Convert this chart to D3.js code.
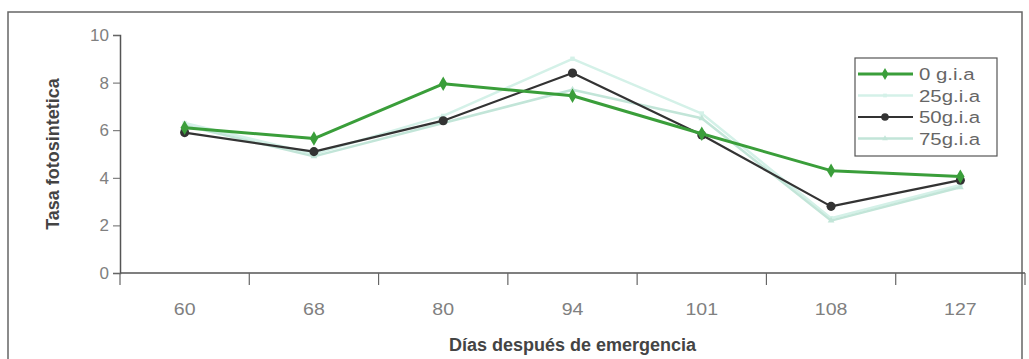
<!DOCTYPE html>
<html>
<head>
<meta charset="utf-8">
<script src="https://cdn.jsdelivr.net/npm/d3@7/dist/d3.min.js"></script>
<style>
    body { margin: 0; background: #fff; }
    svg { display: block; font-family: "Liberation Sans", Arial, sans-serif; }
</style>
</head>
<body>
<div id="chart"></div>
<script>
// Datos
const dias = ['60', '68', '80', '94', '101', '108', '127'];
const dosis0 = [6.1, 5.65, 7.95, 7.45, 5.85, 4.3, 4.05];
const dosis25 = [6.3, 5.0, 6.6, 9.0, 6.7, 2.3, 3.7];
const dosis50 = [5.9, 5.1, 6.4, 8.4, 5.8, 2.8, 3.9];
const dosis75 = [6.2, 4.9, 6.3, 7.7, 6.5, 2.2, 3.6];
const yTicks = [0, 2, 4, 6, 8, 10];

const series = [
    { name: '0 g.i.a', values: dosis0, color: '#3a9e3a', width: 3, marker: d3.symbolDiamond, size: 60 },
    { name: '25g.i.a', values: dosis25, color: '#d4f1e8', width: 2.5, marker: d3.symbolSquare, size: 20 },
    { name: '50g.i.a', values: dosis50, color: '#333333', width: 2.2, marker: d3.symbolCircle, size: 65 },
    { name: '75g.i.a', values: dosis75, color: '#c2e5d8', width: 2.5, marker: d3.symbolTriangle, size: 20 }
];
// orden de dibujo: claras primero, luego negra y verde encima
const drawOrder = [1, 3, 2, 0];

function drawChart() {
    const W = 1029, H = 359;
    const svg = d3.select('#chart').append('svg')
        .attr('width', W).attr('height', H);

    // Marco exterior (escaneado)
    svg.append('path')
        .attr('d', `M8,${H} L8,12 L1022,12 L1022,${H}`)
        .attr('fill', 'none').attr('stroke', '#666').attr('stroke-width', 1.5);

    const x = d3.scaleBand().domain(dias).range([120, 1025]);
    const y = d3.scaleLinear().domain([0, 10]).range([273, 35]);

    // Eje Y
    const yAxis = svg.append('g')
        .attr('transform', 'translate(120,0)')
        .call(d3.axisLeft(y).tickValues(yTicks).tickSize(7).tickPadding(4));
    yAxis.select('.domain').attr('stroke', '#555').attr('stroke-width', 1.5);
    yAxis.selectAll('.tick line').attr('stroke', '#666');
    yAxis.selectAll('.tick text')
        .attr('font-size', '17px').attr('fill', '#808080')
        .attr('font-family', '"Liberation Sans", Arial, sans-serif');

    // Eje X: línea, marcas entre categorías y etiquetas
    const xAxis = svg.append('g').attr('transform', `translate(0,${y(0)})`);
    xAxis.append('line')
        .attr('x1', x.range()[0]).attr('x2', x.range()[1])
        .attr('stroke', '#555').attr('stroke-width', 1.5);
    const bounds = dias.map(d => x(d)).concat([x.range()[1]]);
    xAxis.selectAll('.xtick').data(bounds).join('line')
        .attr('x1', d => d).attr('x2', d => d)
        .attr('y1', 0).attr('y2', 12)
        .attr('stroke', '#666').attr('stroke-width', 1.2);
    xAxis.selectAll('.xlab').data(dias).join('text')
        .attr('transform', d => `translate(${x(d) + x.bandwidth() / 2},42) scale(1.15,1)`)
        .attr('text-anchor', 'middle')
        .attr('font-size', '17px').attr('fill', '#808080')
        .text(d => d);

    // Títulos de ejes
    svg.append('text')
        .attr('transform', `translate(${(x.range()[0] + x.range()[1]) / 2},351)`)
        .attr('text-anchor', 'middle')
        .attr('font-size', '18px').attr('font-weight', 'bold').attr('fill', '#444')
        .text('Días después de emergencia');
    svg.append('text')
        .attr('transform', `translate(59,${(y(0) + y(10)) / 2}) rotate(-90)`)
        .attr('text-anchor', 'middle')
        .attr('font-size', '18px').attr('font-weight', 'bold').attr('fill', '#444')
        .text('Tasa fotosintetica');

    // Líneas
    const line = d3.line()
        .x((d, i) => x(dias[i]) + x.bandwidth() / 2)
        .y(d => y(d));

    drawOrder.forEach(k => {
        const s = series[k];
        svg.append('path')
            .datum(s.values)
            .attr('fill', 'none')
            .attr('stroke', s.color)
            .attr('stroke-width', s.width)
            .attr('stroke-linejoin', 'round')
            .attr('d', line);
        svg.selectAll(null).data(s.values).join('path')
            .attr('transform', (d, i) => `translate(${x(dias[i]) + x.bandwidth() / 2},${y(d)})`)
            .attr('d', d3.symbol().type(s.marker).size(s.size))
            .attr('fill', s.color);
    });

    // Leyenda
    const leg = svg.append('g').attr('transform', 'translate(855,58)');
    leg.append('rect')
        .attr('width', 142).attr('height', 98)
        .attr('fill', '#fff').attr('stroke', '#555').attr('stroke-width', 1.2);
    series.forEach((s, i) => {
        const g = leg.append('g').attr('transform', `translate(0,${16 + i * 21.5})`);
        g.append('line')
            .attr('x1', 3).attr('x2', 58)
            .attr('stroke', s.color).attr('stroke-width', s.width);
        g.append('path')
            .attr('transform', 'translate(30,0)')
            .attr('d', d3.symbol().type(s.marker).size(s.size * 0.7))
            .attr('fill', s.color);
        g.append('text')
            .attr('transform', 'translate(64,6) scale(1.2,1)')
            .attr('font-size', '17px').attr('fill', '#666')
            .text(s.name);
    });
}

drawChart();
</script>
</body>
</html>
